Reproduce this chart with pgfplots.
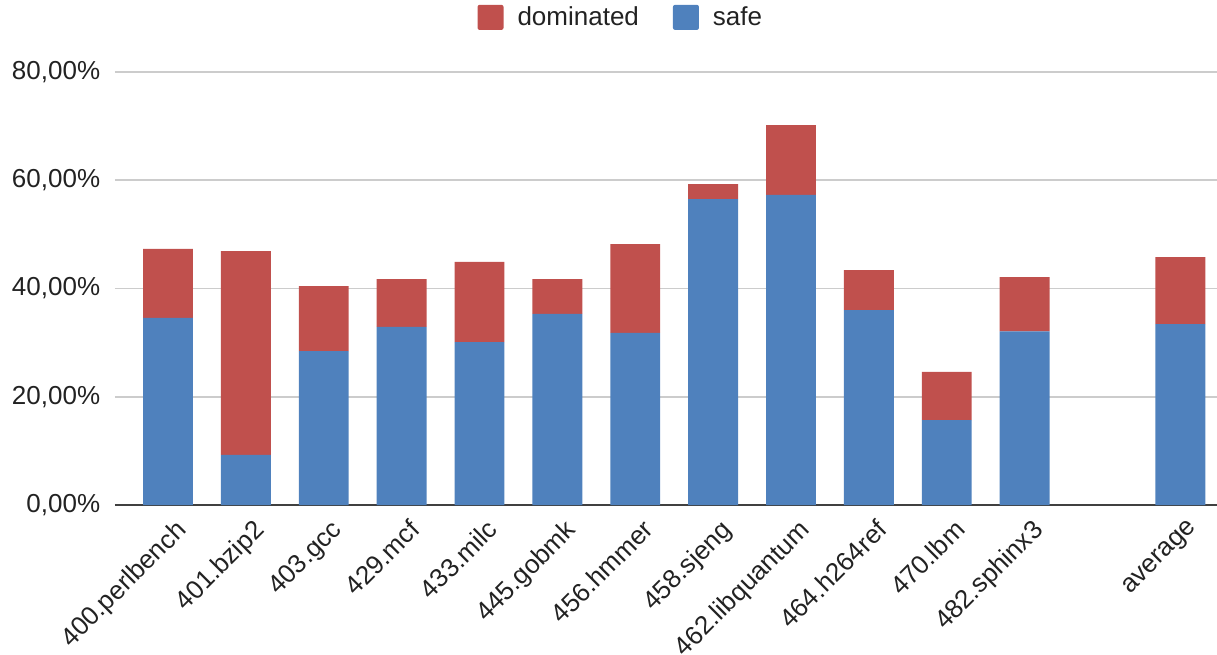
\documentclass[border=0pt]{standalone}
\usepackage{pgfplots}
\pgfplotsset{compat=1.18}
\usepackage{fontspec}
\setmainfont{Liberation Sans}
\definecolor{domred}{HTML}{C0504D}
\definecolor{safeblue}{HTML}{4F81BD}
\definecolor{txt}{HTML}{222222}
\begin{document}
\fontsize{26}{30}\selectfont
\begin{tikzpicture}
\begin{axis}[
  scale only axis, width=1102pt, height=433pt,
  xmin=-0.68, xmax=13.47, ymin=0, ymax=80,
  ybar stacked, bar width=0.64,
  axis line style={draw=none},
  major tick length=0pt,
  xtick={0,1,2,3,4,5,6,7,8,9,10,11,13},
  xticklabels={400.perlbench,401.bzip2,403.gcc,429.mcf,433.milc,445.gobmk,456.hmmer,458.sjeng,462.libquantum,464.h264ref,470.lbm,482.sphinx3,average},
  xticklabel style={rotate=45, anchor=north east, font=\fontsize{26}{30}\selectfont, text=txt, xshift=4pt, yshift=-5pt},
  ytick={0,20,40,60,80},
  yticklabels={{0,00\%},{20,00\%},{40,00\%},{60,00\%},{80,00\%}},
  yticklabel style={font=\fontsize{26}{30}\selectfont, text=txt, xshift=-6pt},
  ymajorgrids, grid style={color=black!20, line width=1.5pt},
  legend columns=2, reverse legend,
  legend style={at={(rel axis cs:0.459,1.125)}, anchor=center, draw=none, fill=none,
    font=\fontsize{26}{30}\selectfont, text=txt,
    /tikz/every odd column/.append style={column sep=12pt},
    /tikz/every even column/.append style={column sep=32pt}},
  legend image code/.code={\fill[#1, rounded corners=2pt] (0pt,-12pt) rectangle (26pt,13pt);},
]
\addplot[fill=safeblue, draw=none] coordinates {
 (0,34.55) (1,9.24) (2,28.45) (3,32.9) (4,30.1) (5,35.3) (6,31.8) (7,56.5) (8,57.3) (9,36.0) (10,15.7) (11,32.1) (13,33.4)};
\addplot[fill=domred, draw=none] coordinates {
 (0,12.75) (1,37.66) (2,12.01) (3,8.85) (4,14.8) (5,6.45) (6,16.4) (7,2.8) (8,12.9) (9,7.4) (10,8.9) (11,10.0) (13,12.4)};
\legend{safe,dominated}
\coordinate (O) at (rel axis cs:0,0);
\draw[color=black!75, line width=1.5pt] (rel axis cs:0,0) -- (rel axis cs:1,0);
\end{axis}
\pgfresetboundingbox
\path (O) ++(-115pt,-150pt) rectangle ++(1217pt,655pt);
\end{tikzpicture}
\end{document}
